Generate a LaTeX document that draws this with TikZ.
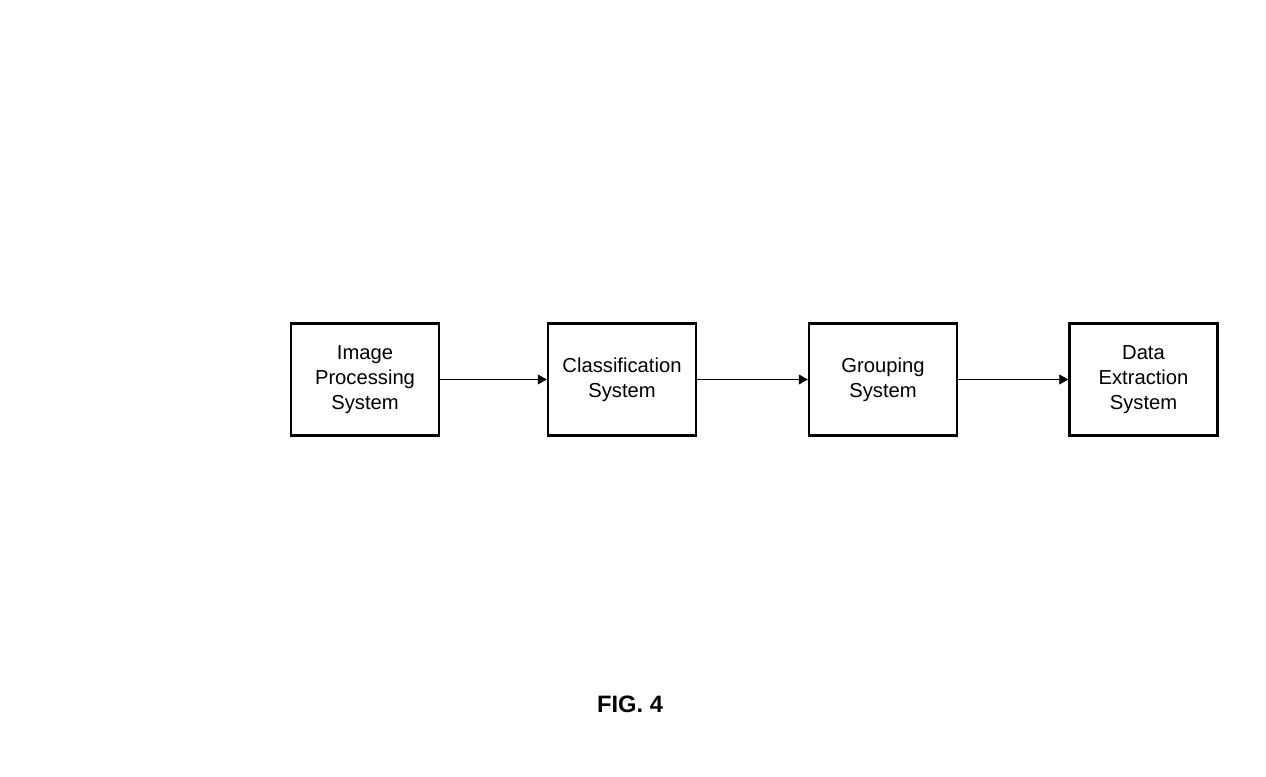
\documentclass[tikz,border=0pt]{standalone}
\usepackage{fontspec}
\setmainfont{Liberation Sans}
\usetikzlibrary{arrows.meta,%
                positioning}

\tikzset{
  sysbox/.style={draw, line width=1.4pt, minimum width=2.96cm, minimum height=2.24cm,
                 align=center, inner sep=0pt, font=\fontsize{11.5}{14.2}\selectfont},
  flow/.style={line width=0.45pt, -{Triangle[length=0.18cm, width=0.2cm]}}
}

\begin{document}
\begin{tikzpicture}
\useasboundingbox (0,0) rectangle (25.32,-15.54);
\node[sysbox] (imgproc)  at (7.30,-7.59)  {Image\\Processing\\System};
\node[sysbox] (classify) at (12.44,-7.59) {Classification\\System};
\node[sysbox] (grouping) at (17.66,-7.59) {Grouping\\System};
\node[sysbox] (extract)  at (22.87,-7.59) {Data\\Extraction\\System};

\draw[flow] (imgproc) -- (classify);
\draw[flow] (classify) -- (grouping);
\draw[flow] (grouping) -- (extract);

\node[font=\bfseries\fontsize{13.5}{16}\selectfont] (figlabel) at (12.60,-14.08) {FIG. 4};
\end{tikzpicture}
\end{document}
